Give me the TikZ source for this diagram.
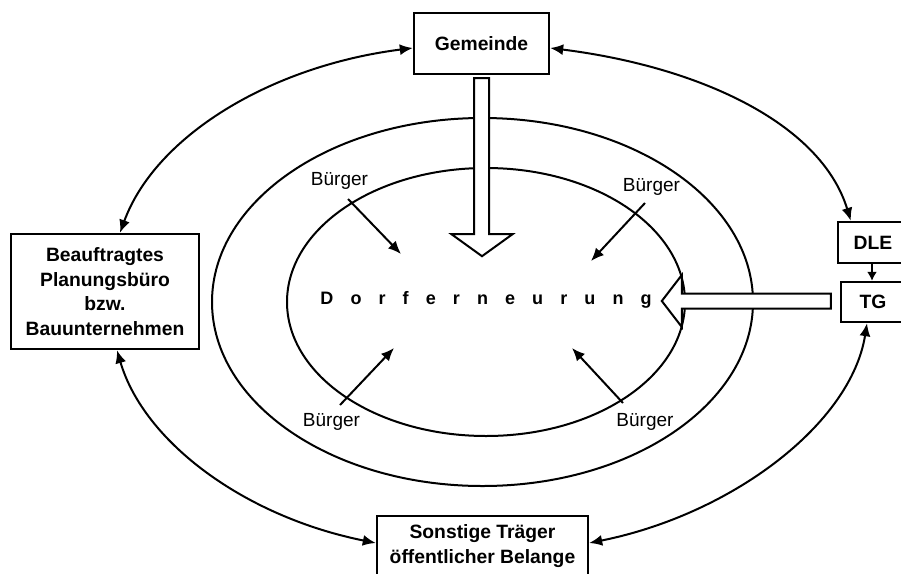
\documentclass[tikz,border=0pt]{standalone}
\usepackage{fontspec}
\setmainfont{Liberation Sans}
\usetikzlibrary{arrows.meta,calc}
\begin{document}
\begin{tikzpicture}[x=1pt,y=-1pt,
  box/.style={draw,line width=2.4pt,fill=white,align=center,inner sep=0pt,
    font=\bfseries\fontsize{19.3}{24.5}\selectfont},
  lbl/.style={inner sep=0pt,font=\fontsize{19}{22}\selectfont},
  ring/.style={line width=2pt},
  hollow/.style={draw,fill=white,line width=2pt,line join=miter},
  arr/.style={line width=2pt,-{Latex[length=13pt,width=11pt]}},
  darr/.style={line width=2pt,{Latex[length=13pt,width=11pt]}-{Latex[length=13pt,width=11pt]}}]
\useasboundingbox (0,0) rectangle (901,573);

% the two rings around the village
\draw[ring] (482.5,302) ellipse [x radius=270.5, y radius=184];
\draw[ring] (486,302) ellipse [x radius=199, y radius=134];

% participants
\node[box,minimum width=135pt,minimum height=61pt] (gem) at (481.5,43.5) {Gemeinde};
\node[box,minimum width=188pt,minimum height=115pt] (plan) at (105,291.5)
  {Beauftragtes\\Planungsbüro\\bzw.\\Bauunternehmen};
\node[box,minimum width=70pt,minimum height=41pt] (dle) at (873,242.5) {DLE};
\node[box,minimum width=64pt,minimum height=40pt] (tg) at (873,302) {TG};
\node[box,minimum width=211pt,minimum height=60pt] (son) at (482.5,546)
  {Sonstige Träger\\öffentlicher Belange};

% central label
\node[font=\bfseries\fontsize{18}{20}\selectfont] (dorf) at (486,300)
  {\spaceskip=17.1pt\relax D o r f e r n e u r u n g};

% broad hollow arrows
\draw[hollow] ($(gem.south)+(-7.5,3)$) -- ($(gem.south)+(7.5,3)$)
  -- ($(gem.south)+(7.5,159)$) -- ($(gem.south)+(31,159)$)
  -- ($(gem.south)+(0.5,181)$) -- ($(gem.south)+(-30,159)$)
  -- ($(gem.south)+(-7.5,159)$) -- cycle;
\draw[hollow] ($(tg.west)+(-9,-8.5)$) -- ($(tg.west)+(-9,6.5)$)
  -- ($(tg.west)+(-158,6.5)$) -- ($(tg.west)+(-158,25)$)
  -- ($(tg.west)+(-178,-1)$) -- ($(tg.west)+(-158,-27)$)
  -- ($(tg.west)+(-158,-8.5)$) -- cycle;

% citizens
\node[lbl] (b1) at (339.5,181) {Bürger};
\node[lbl] (b2) at (651.5,187) {Bürger};
\node[lbl] (b3) at (331.5,422) {Bürger};
\node[lbl] (b4) at (645,422) {Bürger};
\coordinate (t1) at (401,254);
\coordinate (t2) at (591,261);
\coordinate (t3) at (394,348);
\coordinate (t4) at (572,348);
\draw[arr] ($(b1)+(8.5,18)$) -- (t1);
\draw[arr] ($(b2)+(-6.5,16)$) -- (t2);
\draw[arr] ($(b3)+(8.5,-17)$) -- (t3);
\draw[arr] ($(b4)+(-22,-19)$) -- (t4);

% outer exchange between the participants
\draw[darr] ($(gem.west)+(0,4.5)$) .. controls (270.5,66) and (155.3,136.1) .. ($(plan.north)+(15,0)$);
\draw[darr] ($(gem.east)+(0,4.5)$) .. controls (697.2,66.4) and (820.7,122.2) .. ($(dle.north west)+(14,0)$);
\draw[darr] ($(plan.south)+(12,0)$) .. controls (143.5,441.4) and (243.7,516.4) .. ($(son.west)+(0,-3)$);
\draw[darr] ($(son.east)+(0,-3)$) .. controls (732.5,514.2) and (851.2,423.5) .. ($(tg.south)+(-6,0)$);
\draw[line width=2pt,-{Latex[length=9pt,width=10pt]}] ($(dle.south)+(-1,0)$) -- ($(tg.north)+(-1,0)$);
\end{tikzpicture}
\end{document}
